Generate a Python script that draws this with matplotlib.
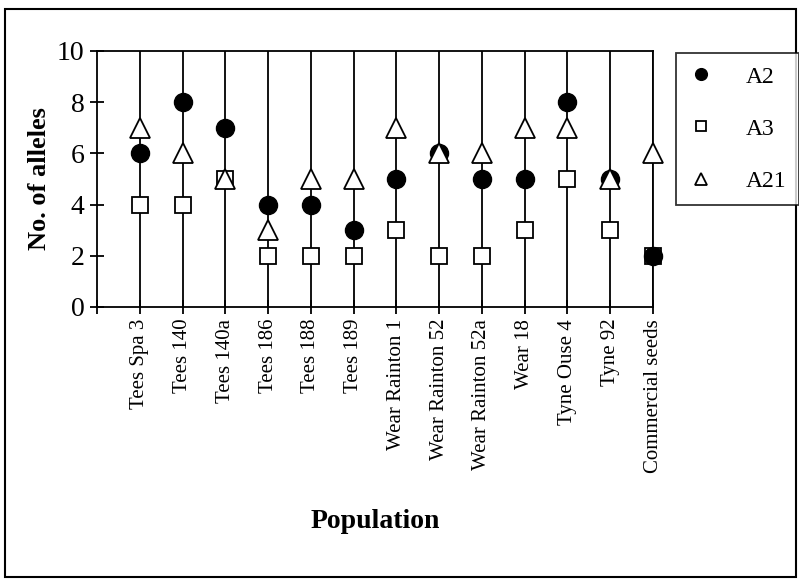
import matplotlib.pyplot as plt
from matplotlib.patches import Rectangle

populations = ["Tees Spa 3", "Tees 140", "Tees 140a", "Tees 186", "Tees 188",
               "Tees 189", "Wear Rainton 1", "Wear Rainton 52", "Wear Rainton 52a",
               "Wear 18", "Tyne Ouse 4", "Tyne 92", "Commercial seeds"]
a2 = [6, 8, 7, 4, 4, 3, 5, 6, 5, 5, 8, 5, 2]
a3 = [4, 4, 5, 2, 2, 2, 3, 2, 2, 3, 5, 3, 2]
a21 = [7, 6, 5, 3, 5, 5, 7, 6, 6, 7, 7, 5, 6]

plt.rcParams['font.family'] = ['Liberation Serif', 'DejaVu Serif']

fig = plt.figure(figsize=(7.99, 5.8), dpi=100)
ax = fig.add_axes([0.1214, 0.4707, 0.6959, 0.4414])

x = list(range(1, len(populations) + 1))
ax.vlines(x, 0, 10, color='black', lw=1.3, zorder=1)

ax.plot(x, a3, ls='none', marker='s', ms=12, mfc='white', mec='black', mew=1.3,
        label='A3', zorder=3, clip_on=False)
ax.plot(x, a2, ls='none', marker='o', ms=13, mfc='black', mec='black',
        label='A2', zorder=4, clip_on=False)
ax.plot(x, a21, ls='none', marker='^', ms=14, mfc='white', mec='black', mew=1.3,
        label='A21', zorder=5, clip_on=False)

ax.set_xlim(0, 13)
ax.set_ylim(0, 10)
ax.set_xticks(range(0, 14))
ax.set_xticklabels([''] + populations, rotation=90, fontsize=15)
ax.set_yticks(range(0, 11, 2))
ax.tick_params(axis='both', direction='inout', length=10, width=1.3, colors='black')
ax.tick_params(axis='y', labelsize=20, pad=4)
for s in ax.spines.values():
    s.set_linewidth(1.3)

ax.set_ylabel('No. of alleles', fontsize=19, fontweight='bold', labelpad=4)
ax.set_xlabel('Population', fontsize=20, fontweight='bold', labelpad=26)

h, l = ax.get_legend_handles_labels()
order = [1, 0, 2]
leg = fig.legend([h[i] for i in order], [l[i] for i in order],
                 loc='upper left', bbox_to_anchor=(0.846, 0.9086),
                 fontsize=17, frameon=True, fancybox=False, edgecolor='black',
                 markerscale=0.65, handlelength=1.0, labelspacing=1.3,
                 borderpad=0.55, handletextpad=1.4, borderaxespad=0)
leg.get_frame().set_linewidth(1.3)

fig.patches.append(Rectangle((0.006, 0.006), 0.99, 0.978, transform=fig.transFigure,
                             fill=False, edgecolor='black', lw=1.5))

fig.savefig('out.png', dpi=100)
